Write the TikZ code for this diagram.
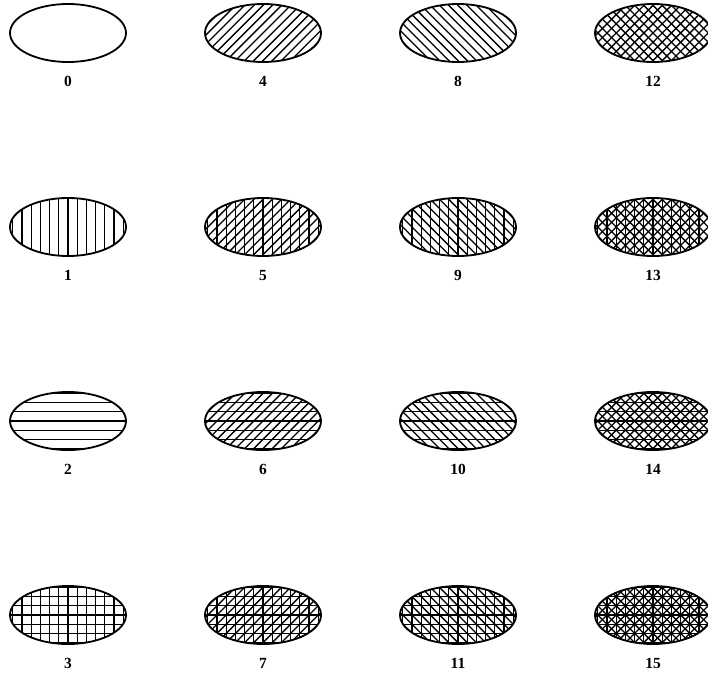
\documentclass[tikz,border=0pt]{standalone}
\usepackage{fontspec}
\setmainfont{Liberation Serif}
\usetikzlibrary{positioning,shapes.geometric}

% hatching of one oval: bit 1 vertical, 2 horizontal, 4 rising, 8 falling
\newcommand\hatchlines[1]{%
  \pgfmathtruncatemacro\hv{mod(#1,2)}%
  \pgfmathtruncatemacro\hh{mod(floor(#1/2),2)}%
  \pgfmathtruncatemacro\hr{mod(floor(#1/4),2)}%
  \pgfmathtruncatemacro\hf{mod(floor(#1/8),2)}%
  \begin{scope}[shift={(path picture bounding box.center)}]
    \ifnum\hv=1 \foreach \k in {-7,...,7} \draw[hatch] (\k*0.23,-1) -- (\k*0.23,1); \fi
    \ifnum\hh=1 \foreach \k in {-4,...,4} \draw[hatch] (-1.6,\k*0.23) -- (1.6,\k*0.23); \fi
    \ifnum\hr=1 \foreach \k in {-12,...,12} \draw[hatch] (\k*0.23-1,-1) -- (\k*0.23+1,1); \fi
    \ifnum\hf=1 \foreach \k in {-12,...,12} \draw[hatch] (\k*0.23-1,1) -- (\k*0.23+1,-1); \fi
  \end{scope}}

\begin{document}
\begin{tikzpicture}[
 x=1cm,y=1cm,
 oval/.style={ellipse,draw=black,line width=1.3pt,fill=white,minimum width=2.9cm,minimum height=1.45cm,inner sep=0pt},
 hatch/.style={line width=.95pt,draw=black},
 tag/.style={font=\fontsize{11}{13}\selectfont\bfseries,inner sep=1pt}
]
\useasboundingbox (0,0) rectangle (17.7,-16.85);

\foreach \i in {0,...,3}
 \foreach \j in {0,...,3}{
  \pgfmathtruncatemacro\n{4*\i+\j}
  \node[oval,path picture={\hatchlines{\n}}] (e\n) at ({1.7+4.875*\i},{-0.825-4.85*\j}) {};
  \node[tag,below=0.3cm of e\n] (t\n) {\n};
 }
\end{tikzpicture}
\end{document}
